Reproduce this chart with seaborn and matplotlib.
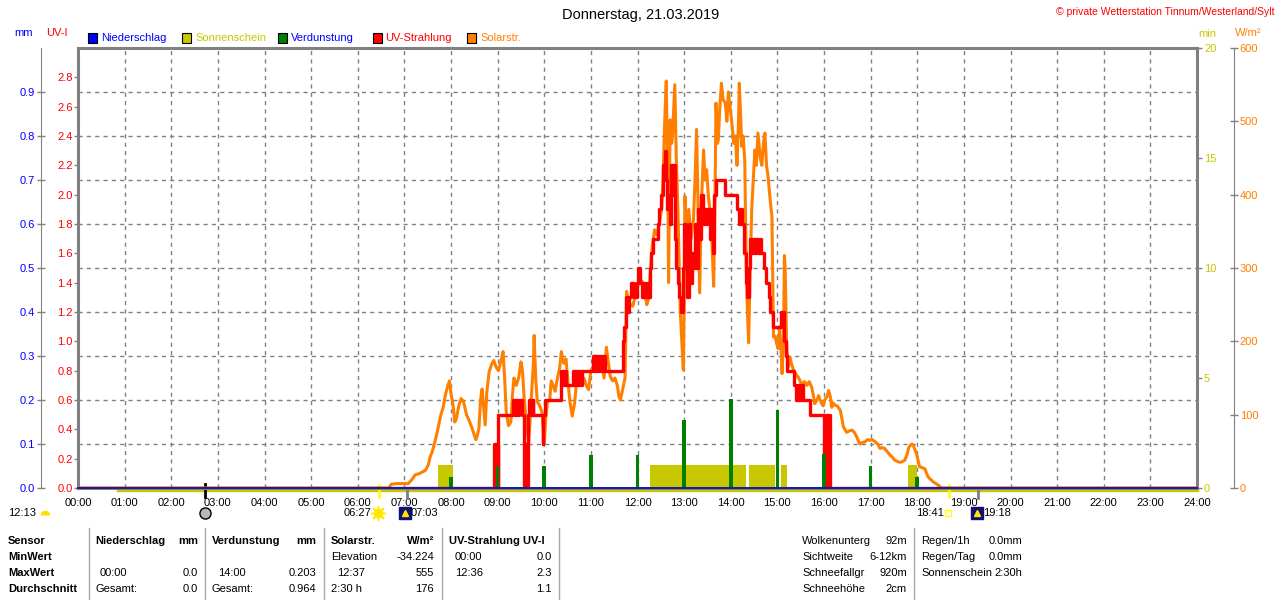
import numpy as np
import matplotlib
matplotlib.use("Agg")
import matplotlib.pyplot as plt
import matplotlib.transforms as mtransforms
from matplotlib.lines import Line2D
from matplotlib.patches import Rectangle
import seaborn as sns

# values, 21.03.2019
solar_time = ["00:00", "06:40", "06:43", "06:50", "07:05", "07:10", "07:14", "07:20", "07:27", "07:31",
              "07:33", "07:36", "07:39", "07:42", "07:44", "07:47", "07:50", "07:53", "07:56", "07:58",
              "08:00", "08:02", "08:05", "08:07", "08:10", "08:13", "08:16", "08:20", "08:24", "08:27",
              "08:30", "08:32", "08:34", "08:36", "08:38", "08:40", "08:42", "08:44", "08:46", "08:49",
              "08:52", "08:55", "08:58", "09:01", "09:04", "09:07", "09:09", "09:11", "09:14", "09:17",
              "09:19", "09:21", "09:24", "09:27", "09:30", "09:32", "09:34", "09:37", "09:40", "09:42",
              "09:44", "09:46", "09:47", "09:49", "09:51", "09:54", "09:57", "10:00", "10:02", "10:04",
              "10:07", "10:09", "10:12", "10:14", "10:17", "10:20", "10:22", "10:25", "10:28", "10:31",
              "10:33", "10:36", "10:39", "10:42", "10:45", "10:48", "10:51", "10:54", "10:57", "11:00",
              "11:03", "11:06", "11:08", "11:11", "11:14", "11:17", "11:20", "11:22", "11:25", "11:28",
              "11:31", "11:34", "11:36", "11:38", "11:40", "11:44", "11:46", "11:48", "11:51", "11:54",
              "11:57", "12:00", "12:03", "12:06", "12:09", "12:12", "12:14", "12:17", "12:19", "12:22",
              "12:25", "12:28", "12:31", "12:33", "12:35", "12:37", "12:39", "12:40", "12:42", "12:44",
              "12:45", "12:48", "12:50", "12:52", "12:55", "12:57", "12:59", "13:00", "13:01", "13:03",
              "13:06", "13:09", "13:12", "13:14", "13:16", "13:18", "13:20", "13:22", "13:25", "13:27",
              "13:29", "13:31", "13:33", "13:36", "13:38", "13:40", "13:41", "13:43", "13:44", "13:46",
              "13:48", "13:50", "13:53", "13:55", "13:57", "13:59", "14:01", "14:04", "14:06", "14:08",
              "14:10", "14:11", "14:13", "14:14", "14:16", "14:18", "14:20", "14:21", "14:23", "14:25",
              "14:27", "14:29", "14:31", "14:33", "14:35", "14:38", "14:40", "14:42", "14:44", "14:46",
              "14:48", "14:51", "14:53", "14:55", "14:57", "14:59", "15:01", "15:03", "15:05", "15:06",
              "15:08", "15:09", "15:10", "15:12", "15:14", "15:16", "15:18", "15:21", "15:24", "15:27",
              "15:31", "15:35", "15:38", "15:41", "15:44", "15:46", "15:48", "15:51", "15:53", "15:55",
              "15:57", "15:59", "16:01", "16:04", "16:06", "16:08", "16:10", "16:12", "16:14", "16:17",
              "16:21", "16:23", "16:25", "16:27", "16:29", "16:33", "16:36", "16:39", "16:42", "16:44",
              "16:46", "16:49", "16:53", "16:56", "16:59", "17:02", "17:06", "17:09", "17:12", "17:15",
              "17:18", "17:21", "17:25", "17:28", "17:31", "17:35", "17:38", "17:41", "17:44", "17:47",
              "17:49", "17:51", "17:53", "17:55", "17:57", "17:59", "18:01", "18:03", "18:06", "18:08",
              "18:10", "18:12", "18:14", "18:17", "18:21", "18:24", "18:27", "18:31", "24:00"]
solar_wm2 = [0, 0, 5, 6, 6, 12, 18, 20, 24, 32,
             42, 50, 62, 75, 85, 100, 110, 128, 140, 146,
             128, 118, 90, 95, 112, 122, 118, 100, 90, 82,
             72, 66, 72, 82, 120, 135, 110, 86, 130, 158,
             168, 174, 165, 160, 172, 186, 150, 105, 85, 90,
             125, 150, 140, 150, 172, 160, 125, 90, 62, 95,
             135, 170, 208, 150, 118, 112, 104, 62, 95, 116,
             120, 146, 138, 132, 150, 165, 186, 170, 176, 140,
             118, 98, 115, 150, 140, 142, 150, 140, 134, 160,
             166, 180, 160, 175, 168, 150, 192, 175, 152, 146,
             150, 140, 125, 120, 130, 150, 268, 255, 250, 248,
             262, 275, 284, 282, 265, 250, 257, 300, 330, 352,
             345, 361, 380, 425, 500, 555, 420, 280, 502, 470,
             480, 550, 447, 380, 243, 200, 161, 250, 398, 350,
             380, 340, 366, 420, 489, 380, 266, 380, 461, 420,
             434, 400, 380, 330, 275, 420, 525, 470, 475, 520,
             552, 530, 525, 500, 540, 520, 502, 470, 480, 440,
             500, 552, 500, 466, 480, 447, 300, 257, 198, 300,
             380, 420, 461, 440, 484, 450, 440, 470, 484, 440,
             425, 390, 370, 206, 207, 197, 190, 220, 184, 156,
             200, 317, 300, 192, 165, 179, 170, 160, 155, 151,
             142, 145, 140, 145, 138, 128, 115, 120, 126, 120,
             115, 112, 120, 125, 133, 125, 110, 116, 113, 112,
             106, 95, 83, 80, 76, 78, 79, 76, 70, 65,
             60, 62, 63, 66, 65, 66, 63, 60, 54, 55,
             54, 50, 45, 42, 38, 36, 35, 36, 38, 46,
             55, 58, 60, 58, 52, 47, 38, 29, 28, 27,
             26, 20, 15, 12, 8, 6, 4, 0, 0]

uv_time = ["00:00", "08:55", "08:57", "08:58", "09:00", "09:01", "09:20", "09:22", "09:24", "09:26",
           "09:28", "09:31", "09:34", "09:36", "09:37", "09:39", "09:41", "09:43", "09:45", "09:46",
           "09:58", "09:59", "10:01", "10:21", "10:22", "10:24", "10:26", "10:28", "10:37", "10:39",
           "10:41", "10:43", "10:45", "10:47", "10:49", "11:03", "11:05", "11:07", "11:09", "11:11",
           "11:13", "11:15", "11:18", "11:25", "11:40", "11:41", "11:43", "11:45", "11:47", "11:49",
           "11:51", "11:56", "11:59", "12:01", "12:03", "12:06", "12:08", "12:10", "12:12", "12:14",
           "12:16", "12:18", "12:20", "12:26", "12:28", "12:30", "12:33", "12:35", "12:37", "12:38",
           "12:40", "12:42", "12:43", "12:45", "12:46", "12:48", "12:50", "12:52", "12:54", "12:56",
           "12:58", "13:00", "13:02", "13:04", "13:06", "13:08", "13:10", "13:12", "13:14", "13:16",
           "13:18", "13:20", "13:22", "13:24", "13:26", "13:28", "13:30", "13:33", "13:35", "13:37",
           "13:39", "13:41", "13:52", "14:08", "14:10", "14:12", "14:14", "14:17", "14:19", "14:21",
           "14:23", "14:25", "14:27", "14:29", "14:31", "14:33", "14:35", "14:37", "14:39", "14:43",
           "14:46", "14:49", "14:51", "14:54", "15:03", "15:05", "15:09", "15:11", "15:13", "15:21",
           "15:24", "15:26", "15:28", "15:31", "15:33", "15:42", "16:00", "16:03", "16:05", "16:06",
           "16:08", "24:00"]
uv_index = [0.0, 0.3, 0.0, 0.3, 0.0, 0.5, 0.6, 0.5, 0.6, 0.5,
            0.6, 0.5, 0.0, 0.3, 0.0, 0.5, 0.6, 0.5, 0.6, 0.5,
            0.3, 0.5, 0.6, 0.7, 0.8, 0.7, 0.8, 0.7, 0.8, 0.7,
            0.8, 0.7, 0.8, 0.7, 0.8, 0.9, 0.8, 0.9, 0.8, 0.9,
            0.8, 0.9, 0.8, 0.8, 0.8, 1.0, 1.1, 1.3, 1.2, 1.3,
            1.4, 1.3, 1.4, 1.5, 1.4, 1.3, 1.4, 1.3, 1.4, 1.3,
            1.5, 1.6, 1.7, 1.8, 1.9, 2.0, 2.2, 2.3, 2.1, 1.9,
            2.0, 1.8, 2.2, 2.0, 2.2, 1.7, 1.5, 1.4, 1.3, 1.2,
            1.5, 1.8, 1.6, 1.3, 1.8, 1.4, 1.6, 1.5, 1.8, 1.5,
            1.9, 1.7, 2.0, 1.8, 1.9, 1.8, 1.9, 1.7, 1.9, 1.6,
            2.0, 2.1, 2.0, 1.9, 1.8, 1.9, 1.8, 1.6, 1.4, 1.3,
            1.5, 1.7, 1.6, 1.7, 1.6, 1.7, 1.6, 1.7, 1.6, 1.5,
            1.4, 1.3, 1.2, 1.1, 1.1, 1.2, 1.0, 0.9, 0.8, 0.7,
            0.6, 0.7, 0.6, 0.7, 0.6, 0.5, 0.0, 0.5, 0.0, 0.5,
            0.0, 0.0]

evap_time = ["08:00", "09:00", "10:00", "11:00", "12:00", "13:00", "14:00", "15:00", "16:00", "17:00", "18:00"]
evap_mm = [0.026, 0.050, 0.050, 0.076, 0.076, 0.155, 0.203, 0.177, 0.077, 0.050, 0.026]

sun_start = ["07:43", "12:16", "14:24", "15:05", "17:48"]
sun_end = ["08:03", "14:19", "14:57", "15:12", "18:00"]
sun_min = [1.05, 1.05, 1.05, 1.05, 1.05]
sun_line_time = ["00:51", "24:00"]

rain_time = ["00:00", "24:00"]
rain_mm = [0.0, 0.0]

sun_events = ["06:27", "18:41"]
twilight_events = ["07:03", "19:18"]
moon_event = "02:43"


def hrs(t):
    h, m = t.split(":")
    return int(h) + int(m) / 60


BLUE, OLIVE, GREEN, RED, ORANGE, GRAY = "#0000FF", "#C8C800", "#008000", "#FF0000", "#FF8000", "#808080"

plt.rcParams["font.family"] = ["Liberation Sans", "DejaVu Sans"]
plt.rcParams["font.size"] = 8

fig = plt.figure(figsize=(12.8, 6), dpi=100)
W, H = 1280, 600


def fx(px):
    return px / W


def fy(py):
    return 1 - py / H


ax_sun = fig.add_axes([fx(78), fy(488), (1197 - 78) / W, 440 / H])
ax_w = ax_sun.twinx()
ax_uv = ax_sun.twinx()
ax_mm = ax_sun.twinx()
for z, a in enumerate([ax_sun, ax_w, ax_uv, ax_mm]):
    a.set_zorder(z + 1)
for a in (ax_w, ax_uv, ax_mm):
    a.patch.set_visible(False)
    for s in a.spines.values():
        s.set_visible(False)

# sunshine (min) - base axes with the grid
ax_sun.set_axisbelow(True)
ax_sun.bar([hrs(t) for t in sun_start], sun_min,
           width=[hrs(e) - hrs(s) for s, e in zip(sun_start, sun_end)],
           align="edge", color=OLIVE, linewidth=0)
ax_sun.plot([hrs(t) for t in sun_line_time], [0, 0], color=OLIVE, lw=2.4, clip_on=False,
            transform=mtransforms.offset_copy(ax_sun.transData, fig=fig, y=-2, units="dots"))

# solar radiation
sns.lineplot(x=[hrs(t) for t in solar_time], y=solar_wm2, ax=ax_w, color=ORANGE,
             linewidth=2.2, estimator=None, sort=False)

# UV index
sns.lineplot(x=[hrs(t) for t in uv_time], y=uv_index, ax=ax_uv, color=RED,
             linewidth=2.4, estimator=None, sort=False, drawstyle="steps-post")

# evaporation + precipitation (mm)
ax_mm.bar([hrs(t) for t in evap_time], evap_mm, width=0.08, color=GREEN, linewidth=0)
sns.lineplot(x=[hrs(t) for t in rain_time], y=rain_mm, ax=ax_mm, color="#1818A0",
             linewidth=1.4, clip_on=False)

for a in (ax_sun, ax_w, ax_uv, ax_mm):
    a.set_xlabel("")
    a.set_ylabel("")

# ---- axes / ticks ----
ax_sun.set_xlim(0, 24)
ax_sun.set_ylim(0, 20)
ax_sun.set_xticks(range(25))
ax_sun.set_xticklabels([f"{h:02d}:00" for h in range(25)])
ax_sun.tick_params(axis="x", length=0, pad=7, labelsize=8)
ax_sun.yaxis.tick_right()
ax_sun.set_yticks([0, 5, 10, 15, 20])
ax_sun.set_yticks(np.arange(2, 20, 2), minor=True)
ax_sun.yaxis.remove_overlapping_locs = False
ax_sun.tick_params(axis="y", which="major", right=True, left=False, length=3.6, width=1,
                   color=GRAY, labelcolor=OLIVE, pad=1.5)
ax_sun.tick_params(axis="y", which="minor", length=0)
ax_sun.grid(axis="x", which="major", color=GRAY, ls=(0, (3, 3)), lw=1)
ax_sun.grid(axis="y", which="minor", color=GRAY, ls=(0, (3, 3)), lw=1)
for s in ax_sun.spines.values():
    s.set_color(GRAY)
    s.set_linewidth(2.2)

ax_uv.set_ylim(0, 3.0)
uv_ticks = np.arange(0, 2.81, 0.2)
ax_uv.yaxis.tick_left()
ax_uv.set_yticks(uv_ticks)
ax_uv.set_yticklabels([f"{v:.1f}" for v in uv_ticks])
ax_uv.tick_params(axis="y", left=True, right=False, length=2.9, width=1, color=GRAY,
                  labelcolor=RED, pad=1)

ax_mm.set_ylim(0, 1.0)
mm_ticks = np.arange(0, 0.91, 0.1)
ax_mm.yaxis.tick_left()
ax_mm.spines["left"].set_visible(True)
ax_mm.spines["left"].set_position(("axes", (40.7 - 78) / 1119))
ax_mm.spines["left"].set_color(GRAY)
ax_mm.set_yticks(mm_ticks)
ax_mm.set_yticklabels([f"{v:.1f}" for v in mm_ticks])
ax_mm.tick_params(axis="y", left=True, right=False, direction="inout", length=5.8, width=1,
                  color=GRAY, labelcolor=BLUE, pad=1)

ax_w.set_ylim(0, 600)
ax_w.spines["right"].set_visible(True)
ax_w.spines["right"].set_position(("axes", (1234.3 - 78) / 1119))
ax_w.spines["right"].set_color(GRAY)
ax_w.set_yticks(range(0, 601, 100))
ax_w.tick_params(axis="y", direction="inout", length=5.8, width=1, color=GRAY,
                 labelcolor=ORANGE, pad=1)

# markers below the time axis
trans = mtransforms.blended_transform_factory(ax_sun.transData, ax_sun.transAxes)
for t in sun_events:
    ax_sun.plot([hrs(t)] * 2, [0.007, -0.021], color="#FFFF00", lw=1.8, transform=trans, clip_on=False)
for t in twilight_events:
    ax_sun.plot([hrs(t)] * 2, [-0.004, -0.023], color=GRAY, lw=2, transform=trans, clip_on=False)
ax_sun.plot([hrs(moon_event)] * 2, [0.009, -0.021], color="black", lw=2, transform=trans, clip_on=False)

# ---- header texts ----
fig.text(fx(641), fy(15), "Donnerstag, 21.03.2019", ha="center", va="center", fontsize=10.5)
fig.text(fx(1275), fy(12), "© private Wetterstation Tinnum/Westerland/Sylt", ha="right", va="center",
         fontsize=7.5, color=RED)
fig.text(fx(14), fy(33), "mm", color=BLUE, va="center")
fig.text(fx(46), fy(33), "UV-I", color=RED, va="center")
fig.text(fx(1198), fy(34), "min", color=OLIVE, va="center")
fig.text(fx(1235), fy(33), "W/m²", color=ORANGE, va="center")

legend = [("Niederschlag", BLUE, BLUE, 88), ("Sonnenschein", OLIVE, OLIVE, 182),
          ("Verdunstung", GREEN, BLUE, 277.5), ("UV-Strahlung", RED, RED, 372.5),
          ("Solarstr.", ORANGE, ORANGE, 467)]
for name, box, txt, x0 in legend:
    fig.add_artist(Rectangle((fx(x0), fy(43)), 9 / W, 10 / H, transform=fig.transFigure,
                             facecolor=box, edgecolor="black", lw=0.8))
    fig.text(fx(x0 + 13), fy(38), name, color=txt, va="center")

# ---- sun / moon row ----
yrow = 513
fig.text(fx(8), fy(yrow), "12:13", va="center")
fig.add_artist(Line2D([fx(45)], [fy(515)], marker="o", ms=7, mfc="#FFE000", fillstyle="top",
                      markerfacecoloralt="none", mew=0, transform=fig.transFigure))
fig.add_artist(Line2D([fx(205)], [fy(yrow)], marker="o", ms=8, mfc="#B8B8B8", mec="black", mew=1,
                      transform=fig.transFigure))
fig.text(fx(344), fy(yrow), "06:27", va="center")
fig.add_artist(Line2D([fx(378)], [fy(yrow)], marker=(8, 2, 0), ms=11, color="#FFE800", mew=1,
                      transform=fig.transFigure))
fig.add_artist(Line2D([fx(378)], [fy(yrow)], marker="o", ms=6, mfc="#FFE800", mec="#FFE800",
                      transform=fig.transFigure))
for xi, label in ((405, "07:03"), (977, "19:18")):
    fig.add_artist(Line2D([fx(xi)], [fy(yrow)], marker="s", ms=8, mfc="#101070", mec="#101070",
                          transform=fig.transFigure))
    fig.add_artist(Line2D([fx(xi)], [fy(yrow)], marker="^", ms=4, mfc="#FFE800", mec="#FFE800",
                          transform=fig.transFigure))
    fig.text(fx(xi + 6), fy(yrow), label, va="center")
fig.text(fx(916), fy(yrow), "18:41", va="center")
fig.add_artist(Line2D([fx(948)], [fy(yrow)], marker="s", ms=4.5, mfc="none", mec="#FFFF00", mew=1,
                      transform=fig.transFigure))

# ---- summary table ----
rows = [541, 557, 573, 589]
cells = [
    (0, "Sensor", 8, "left", True), (0, "Niederschlag", 95, "left", True), (0, "mm", 198, "right", True),
    (0, "Verdunstung", 212, "left", True), (0, "mm", 316, "right", True),
    (0, "Solarstr.", 331, "left", True), (0, "W/m²", 434, "right", True),
    (0, "UV-Strahlung UV-I", 449, "left", True),
    (1, "MinWert", 8, "left", True), (1, "Elevation", 331, "left", False), (1, "-34.224", 434, "right", False),
    (1, "00:00", 455, "left", False), (1, "0.0", 552, "right", False),
    (2, "MaxWert", 8, "left", True), (2, "00:00", 100, "left", False), (2, "0.0", 198, "right", False),
    (2, "14:00", 218, "left", False), (2, "0.203", 316, "right", False),
    (2, "12:37", 337, "left", False), (2, "555", 434, "right", False),
    (2, "12:36", 455, "left", False), (2, "2.3", 552, "right", False),
    (3, "Durchschnitt", 8, "left", True), (3, "Gesamt:", 95, "left", False), (3, "0.0", 198, "right", False),
    (3, "Gesamt:", 212, "left", False), (3, "0.964", 316, "right", False),
    (3, "2:30 h", 331, "left", False), (3, "176", 434, "right", False), (3, "1.1", 552, "right", False),
    (0, "Wolkenunterg", 802, "left", False), (0, "92m", 907, "right", False),
    (1, "Sichtweite", 802, "left", False), (1, "6-12km", 907, "right", False),
    (2, "Schneefallgr", 802, "left", False), (2, "920m", 907, "right", False),
    (3, "Schneehöhe", 802, "left", False), (3, "2cm", 907, "right", False),
    (0, "Regen/1h", 921, "left", False), (0, "0.0mm", 1022, "right", False),
    (1, "Regen/Tag", 921, "left", False), (1, "0.0mm", 1022, "right", False),
    (2, "Sonnenschein", 921, "left", False), (2, "2:30h", 1022, "right", False),
]
for r, s, x, ha, bold in cells:
    fig.text(fx(x), fy(rows[r]), s, ha=ha, va="center", fontweight="bold" if bold else "normal")
for xs in (89, 205, 323.5, 441.5, 559, 913.5):
    fig.add_artist(Line2D([fx(xs)] * 2, [fy(528), fy(600)], color="#A8A8A8", lw=1,
                          transform=fig.transFigure))

fig.savefig("out.png", dpi=100, facecolor="white")
